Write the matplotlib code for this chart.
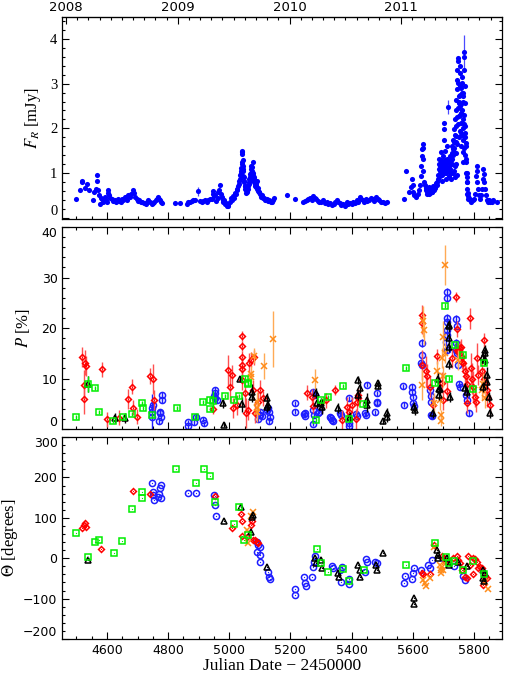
import matplotlib
matplotlib.use('Agg')
import matplotlib.pyplot as plt
from matplotlib.ticker import MultipleLocator
import numpy as np

# ---- optical flux (JD - 2450000, mJy), one pair of lists per season
jd_2008 = [4499, 4512, 4517, 4518, 4528, 4536, 4542, 4555, 4559, 4563, 4566, 4567, 4572, 4575, 4577, 4580,
           4583, 4588, 4594, 4597, 4599, 4602, 4604, 4608, 4611, 4615, 4620, 4626, 4631, 4637, 4641, 4645,
           4650, 4654, 4658, 4662, 4666, 4670, 4675, 4679, 4684, 4688, 4692, 4697, 4701, 4706, 4710, 4714,
           4720, 4728, 4732, 4735, 4740, 4746, 4750, 4754, 4759, 4763, 4766, 4768, 4771, 4773, 4776, 4779]
f_2008 = [0.42, 0.63, 0.83, 0.79, 0.66, 0.76, 0.61, 0.39, 0.57, 0.64, 0.83, 0.96, 0.61, 0.50, 0.31, 0.45,
          0.42, 0.36, 0.46, 0.40, 0.35, 0.55, 0.61, 0.50, 0.45, 0.42, 0.38, 0.39, 0.34, 0.42, 0.37, 0.35,
          0.42, 0.39, 0.46, 0.44, 0.40, 0.50, 0.46, 0.52, 0.61, 0.55, 0.47, 0.42, 0.38, 0.39, 0.35, 0.36,
          0.33, 0.31, 0.36, 0.39, 0.34, 0.31, 0.33, 0.35, 0.39, 0.41, 0.47, 0.44, 0.42, 0.39, 0.36, 0.33]

jd_2009 = [4823, 4839, 4861, 4866, 4872, 4878, 4883, 4888, 4899, 4905, 4910, 4915, 4921, 4927, 4932, 4938,
           4943, 4946, 4948, 4951, 4953, 4958, 4962, 4964, 4968, 4970, 4973, 4975, 4978, 4980, 4983, 4986,
           4989, 4992, 4995, 4997, 5002, 5005, 5008, 5012, 5016, 5019, 5022, 5024, 5026, 5028, 5031, 5033,
           5035, 5036, 5037, 5038, 5040, 5041, 5042, 5043, 5043, 5044, 5045, 5046, 5047, 5048, 5050, 5051,
           5054, 5057, 5059, 5062, 5064, 5066, 5068, 5070, 5072, 5073, 5076, 5079, 5080, 5081, 5083, 5084,
           5086, 5088, 5090, 5092, 5095, 5098, 5101, 5104, 5106, 5110, 5114, 5118, 5122, 5126, 5131, 5135,
           5139, 5143, 5146,
           5039, 5044, 5046, 5049, 5053, 5056, 5060, 5063, 5067, 5069, 5071, 5074, 5075, 5077, 5078, 5082,
           5085, 5087, 5089, 5093, 5096]
f_2009 = [0.33, 0.33, 0.31, 0.34, 0.36, 0.38, 0.39, 0.39, 0.59, 0.37, 0.35, 0.38, 0.39, 0.36, 0.39, 0.42,
          0.42, 0.52, 0.59, 0.48, 0.50, 0.38, 0.45, 0.57, 0.62, 0.72, 0.52, 0.46, 0.40, 0.34, 0.39, 0.30,
          0.33, 0.27, 0.25, 0.29, 0.34, 0.45, 0.39, 0.48, 0.44, 0.55, 0.53, 0.65, 0.61, 0.70, 0.76, 0.82,
          0.87, 0.95, 1.01, 1.05, 1.20, 1.25, 1.46, 1.50, 1.42, 1.16, 1.05, 0.94, 0.80, 0.83, 0.70, 0.64,
          0.55, 0.57, 0.62, 0.64, 0.75, 0.87, 0.92, 1.01, 1.08, 1.13, 0.95, 1.24, 0.80, 0.87, 0.70, 0.76,
          0.68, 0.78, 0.83, 0.64, 0.60, 0.57, 0.52, 0.47, 0.50, 0.45, 0.44, 0.40, 0.42, 0.38, 0.39, 0.35,
          0.36, 0.40, 0.44,
          1.12, 1.30, 1.10, 0.90, 0.70, 0.62, 0.70, 0.80, 0.98, 0.85, 1.15, 0.90, 1.05, 0.85, 1.00, 0.92,
          0.82, 0.72, 0.70, 0.66, 0.58]

jd_2010 = [5190, 5215, 5242, 5247, 5253, 5258, 5264, 5270, 5275, 5279, 5284, 5290, 5295, 5300, 5306, 5312,
           5319, 5324, 5330, 5335, 5341, 5346, 5351, 5356, 5362, 5367, 5373, 5378, 5384, 5389, 5395, 5400,
           5406, 5411, 5417, 5421, 5426, 5431, 5437, 5442, 5447, 5452, 5458, 5463, 5469, 5474, 5480, 5485,
           5491, 5496, 5504, 5510, 5517]
f_2010 = [0.51, 0.41, 0.36, 0.38, 0.39, 0.42, 0.44, 0.40, 0.48, 0.45, 0.42, 0.38, 0.36, 0.34, 0.39, 0.33,
          0.35, 0.30, 0.33, 0.28, 0.31, 0.35, 0.39, 0.36, 0.33, 0.29, 0.31, 0.27, 0.35, 0.31, 0.33, 0.30,
          0.36, 0.33, 0.39, 0.35, 0.46, 0.41, 0.39, 0.35, 0.42, 0.37, 0.39, 0.43, 0.41, 0.38, 0.46, 0.42,
          0.39, 0.36, 0.35, 0.33, 0.35]

jd_2011 = [5571, 5578, 5589, 5593, 5597, 5602, 5602, 5605, 5610, 5618, 5622, 5624, 5626, 5628, 5629, 5630,
           5633, 5635, 5633, 5635, 5637, 5640, 5643, 5648, 5652, 5657, 5662, 5665, 5670, 5674, 5678,
           5644, 5647, 5650, 5654, 5656, 5660, 5664, 5667, 5672, 5676, 5680, 5682,
           5684, 5686, 5687, 5689, 5691, 5692, 5695, 5696, 5698, 5700, 5701, 5702, 5703, 5705, 5707, 5709,
           5711, 5713, 5714, 5716, 5718, 5720, 5722, 5724, 5726,
           5686, 5688, 5690, 5692, 5694, 5696, 5697, 5699, 5701, 5703, 5704, 5706, 5708, 5710, 5712, 5715,
           5717, 5719, 5721, 5723, 5725, 5727,
           5729, 5731, 5733, 5734, 5735, 5737, 5738, 5740, 5742, 5743, 5744, 5745, 5746, 5747, 5748, 5749,
           5750, 5751, 5752, 5753, 5754, 5755, 5756, 5757, 5758, 5759, 5760, 5761, 5762, 5763, 5764, 5765,
           5766, 5767, 5768, 5769, 5770, 5771, 5772, 5773, 5774, 5775, 5776, 5777, 5778, 5779, 5781, 5783,
           5731, 5735, 5738, 5740, 5742, 5744, 5745, 5750, 5754, 5758, 5762, 5765, 5766, 5767, 5770, 5771,
           5728, 5730, 5732, 5734, 5736, 5739, 5741, 5743, 5745, 5747, 5749, 5751, 5753, 5755, 5757, 5759,
           5761, 5763, 5765, 5767, 5769, 5771, 5773, 5775, 5777, 5779, 5780, 5782,
           5787, 5792, 5796, 5801, 5804, 5807, 5809, 5810, 5811, 5814, 5817, 5820, 5824, 5827, 5829, 5831,
           5832, 5834, 5836, 5840, 5842, 5845, 5849, 5853, 5858, 5864, 5877]
f_2011 = [0.42, 1.05, 0.57, 0.68, 0.87, 0.73, 0.57, 0.50, 0.46, 0.53, 0.61, 0.72, 0.94, 1.16, 1.38, 1.53,
          1.64, 1.57, 1.31, 1.05, 0.79, 0.72, 0.61, 0.57, 0.53, 0.61, 0.57, 0.65, 0.61, 0.68, 0.72,
          0.66, 0.52, 0.60, 0.68, 0.55, 0.63, 0.58, 0.70, 0.66, 0.78, 0.80, 0.95,
          0.87, 1.09, 1.31, 0.94, 1.24, 1.46, 1.01, 0.83, 1.16, 1.38, 1.75, 1.98, 2.13, 1.50, 1.09, 0.87,
          1.31, 1.61, 2.48, 1.24, 0.94, 1.13, 1.38, 0.87, 1.01,
          1.20, 1.05, 1.15, 1.30, 1.10, 1.25, 0.95, 1.10, 1.20, 1.00, 1.30, 1.15, 1.00, 1.20, 1.05, 1.10,
          1.25, 1.05, 1.20, 1.10, 1.30, 1.20,
          1.31, 1.53, 1.75, 1.98, 1.46, 1.16, 2.20, 2.42, 1.83, 2.64, 2.87, 3.09, 3.31, 3.50, 3.57, 3.01,
          2.57, 2.27, 2.72, 2.94, 3.24, 3.39, 2.50, 2.13, 1.90, 2.35, 2.79, 3.01, 3.16, 2.72, 2.20, 1.75,
          1.46, 3.60, 3.31, 3.72, 2.94, 2.57, 2.05, 1.68, 1.31, 1.01, 0.79, 1.01, 0.65, 0.53, 0.42, 0.45,
          1.00, 1.05, 0.90, 1.20, 1.45, 0.95, 1.65, 1.80, 1.95, 1.60, 1.85, 2.00, 1.25, 1.55, 1.90, 1.40,
          1.45, 1.60, 1.40, 1.70, 1.55, 1.85, 2.05, 1.70, 2.25, 2.45, 2.10, 2.60, 2.30, 2.75, 2.55, 2.90,
          2.40, 2.60, 2.80, 2.30, 2.10, 1.80, 1.60, 1.25, 0.90, 0.80, 0.55, 0.48,
          0.39, 0.35, 0.39, 0.42, 0.53, 0.94, 1.16, 1.05, 0.79, 0.65, 0.50, 0.42, 0.50, 0.65, 0.87, 1.09,
          0.98, 0.79, 0.65, 0.50, 0.39, 0.35, 0.39, 0.36, 0.35, 0.39, 0.36]

flux_bar_jd = [4899, 5714, 5769]
flux_bar = [0.59, 2.48, 3.72]
flux_bar_err = [0.10, 0.16, 0.38]

# ---- polarization degree P [%]
red_jd = [4517, 4528, 4530, 4525, 4525, 4583, 4599, 4640, 4670, 4681, 4686, 4697, 4741, 4752, 4755,
          4948, 4997, 5002, 5010, 5013, 5024, 5041, 5041, 5041, 5041, 5043, 5043, 5051, 5054, 5062,
          5065, 5070, 5080, 5079, 5084, 5095, 5101, 5110,
          5255, 5270, 5275, 5316, 5346, 5368, 5384, 5393, 5401, 5415, 5418, 5420, 5422,
          5629, 5629, 5629, 5644, 5646, 5657, 5666, 5678, 5695, 5700, 5712, 5727, 5742, 5744, 5744,
          5749, 5752, 5755, 5757, 5760, 5760, 5763, 5771, 5774, 5777, 5777, 5787, 5790, 5793, 5798,
          5804, 5807, 5811, 5815, 5826, 5833, 5834, 5836, 5842, 5844, 5853]
red_p = [14.2, 13.1, 12.5, 8.7, 5.9, 11.8, 1.9, 2.2, 5.9, 8.4, 4.2, 2.4, 10.5, 9.9, 5.7,
         3.9, 11.6, 8.4, 10.6, 4.1, 4.8, 11.8, 12.7, 14.2, 16.4, 18.5, 9.8, 7.1, 3.1, 3.8,
         13.0, 13.7, 14.2, 7.7, 3.2, 5.4, 7.7, 6.1,
         7.2, 6.4, 4.6, 5.7, 7.7, 1.8, 4.3, 3.4, 4.8, 1.9, 5.4, 6.1, 6.7,
         22.6, 20.9, 12.7, 11.4, 10.4, 8.4, 4.8, 14.4, 9.2, 5.7, 7.5, 14.0, 26.2, 19.8, 15.7,
         15.3, 15.6, 16.0, 16.3, 14.3, 13.3, 13.0, 11.4, 10.4, 9.0, 5.1, 21.9, 12.0, 10.0, 8.4,
         6.4, 5.4, 14.0, 10.7, 11.4, 17.6, 10.0, 9.0, 7.8, 6.4, 4.8]
red_perr = [2.0, 2.5, 2.0, 3.0, 3.0, 1.5, 1.5, 1.5, 2.0, 1.5, 1.5, 1.5, 1.5, 3.0, 2.0,
            1.0, 3.0, 3.0, 2.0, 2.0, 2.0, 1.5, 1.5, 1.2, 1.0, 1.0, 2.0, 3.0, 3.0, 2.0,
            2.0, 1.5, 1.5, 2.0, 2.0, 2.0, 2.0, 1.5,
            1.5, 1.5, 1.5, 1.5, 1.0, 2.0, 2.0, 1.5, 1.5, 2.0, 2.0, 1.5, 1.5,
            2.0, 2.0, 3.0, 3.0, 2.5, 2.0, 1.5, 1.5, 2.0, 2.0, 2.0, 2.0, 1.0, 1.5, 1.5,
            1.5, 1.5, 1.5, 1.5, 1.5, 1.5, 2.0, 2.0, 2.0, 2.0, 2.0, 2.0, 3.0, 3.0, 3.0,
            2.0, 2.0, 3.0, 2.0, 2.5, 1.5, 2.0, 2.0, 2.0, 2.0, 2.0]

blue_jd = [4746, 4747, 4748, 4752, 4774, 4775, 4777, 4779, 4780, 4770, 4866, 4866, 4885, 4891, 4915,
           4917, 4953, 4953, 4954, 4959, 4951, 5101, 5106, 5095, 5128, 5130, 5133, 5130, 5122, 5099,
           5215, 5215, 5248, 5248, 5245, 5275, 5280, 5275, 5277, 5275, 5291, 5294, 5297, 5333, 5335,
           5338, 5330, 5362, 5364, 5390, 5390, 5393, 5415, 5418, 5444, 5450, 5447, 5482, 5484, 5482,
           5477,
           5569, 5571, 5597, 5599, 5600, 5602, 5604, 5629, 5629, 5631, 5628, 5657, 5659, 5661, 5660,
           5662, 5713, 5713, 5711, 5713, 5711, 5711, 5709, 5713, 5742, 5744, 5741, 5741, 5744, 5749,
           5752, 5755, 5774, 5779, 5785]
blue_p = [4.1, 3.4, 2.4, 4.8, 3.4, 3.1, 2.4, 6.7, 5.7, 1.5, 1.3, 0.5, 1.3, 2.4, 1.8,
          1.1, 7.7, 7.1, 6.1, 5.7, 6.6, 2.8, 2.6, 2.0, 4.1, 3.4, 2.4, 1.5, 3.8, 3.4,
          5.1, 3.4, 3.2, 2.6, 2.9, 7.4, 6.7, 3.8, 2.7, 1.0, 3.1, 3.4, 4.1, 2.1, 1.8,
          1.5, 2.4, 3.1, 2.8, 1.1, 0.5, 6.1, 3.0, 2.6, 3.1, 8.8, 2.8, 5.4, 5.1, 7.1,
          3.3,
          8.5, 4.8, 8.4, 7.4, 6.4, 5.2, 4.6, 17.1, 14.7, 12.7, 13.0, 7.7, 6.5, 5.4, 2.8,
          2.5, 27.2, 25.9, 21.9, 21.2, 19.6, 18.6, 17.3, 15.6, 21.8, 20.4, 17.0, 15.6, 15.0, 12.7,
          9.0, 8.4, 6.7, 5.7, 3.1]
blue_perr = [0.6, 3.5, 0.6, 0.6, 0.6, 0.6, 0.6, 0.6, 0.6, 0.6, 0.5, 0.5, 0.5, 0.5, 0.5,
             0.5, 0.6, 0.6, 0.6, 0.6, 0.6, 0.6, 0.6, 0.6, 0.6, 0.6, 0.6, 0.6, 0.6, 0.6,
             0.5, 0.5, 0.5, 0.5, 0.5, 0.5, 0.5, 0.5, 0.5, 0.5, 0.5, 0.5, 0.5, 0.5, 0.5,
             0.5, 0.5, 0.5, 0.5, 0.5, 0.5, 0.5, 0.5, 0.5, 0.5, 0.5, 0.5, 0.5, 0.5, 0.5,
             0.5,
             0.5, 0.5, 0.5, 0.5, 0.5, 0.5, 0.5, 0.8, 0.8, 0.8, 0.8, 0.6, 0.6, 0.6, 0.6,
             0.6, 0.8, 0.8, 0.8, 0.8, 0.8, 0.8, 0.8, 0.8, 0.8, 0.8, 0.8, 0.8, 0.8, 0.8,
             0.6, 0.6, 0.6, 0.6, 0.6]

green_jd = [4499, 4539, 4561, 4575, 4621, 4653, 4681, 4714, 4717, 4746, 4828, 4888, 4915, 4937, 4937,
            4948, 4986, 5015, 5033, 5051, 5062, 5060, 5284, 5299, 5324, 5373, 5390, 5437,
            5578, 5706, 5738, 5763, 5720, 5673, 5796, 5834]
green_p = [2.4, 8.9, 8.1, 3.3, 1.6, 2.4, 3.0, 5.2, 4.2, 2.8, 4.1, 2.4, 5.3, 3.9, 5.7,
           5.6, 6.5, 5.7, 6.6, 10.0, 9.2, 9.0, 1.8, 5.7, 6.4, 8.6, 1.9, 4.9,
           12.0, 24.4, 16.6, 14.7, 10.0, 9.2, 8.0, 13.0]
green_perr = [0.4, 1.5, 0.4, 0.4, 0.4, 0.4, 0.4, 0.4, 0.4, 0.4, 0.4, 0.4, 0.4, 0.4, 0.4,
              2.0, 0.4, 0.4, 0.4, 0.4, 0.4, 0.4, 0.4, 0.4, 0.4, 0.4, 0.4, 0.4,
              0.4, 0.5, 0.5, 0.5, 0.5, 0.5, 0.5, 0.5]

black_jd = [4539, 4626, 4659, 4983, 4981, 5035, 5041, 5073, 5073, 5122, 5122, 5128, 5285, 5286, 5299,
            5302, 5357, 5395, 5422, 5426, 5422, 5450, 5450, 5487, 5487, 5504, 5515, 5515,
            5605, 5607, 5684, 5686, 5687, 5689, 5665, 5717, 5719, 5717, 5720, 5722, 5718, 5779, 5771,
            5836, 5835, 5831, 5836, 5842, 5842, 5853, 5851, 5831]
black_p = [8.9, 2.1, 2.1, 0.8, 5.2, 10.0, 4.9, 7.4, 6.4, 6.2, 4.4, 4.8, 7.1, 5.2, 5.1,
           4.4, 4.1, 2.4, 9.7, 8.1, 6.7, 5.7, 4.8, 9.2, 8.6, 1.5, 3.1, 2.4,
           4.4, 3.7, 10.0, 8.0, 6.7, 7.9, 3.1, 20.6, 18.0, 16.3, 12.9, 6.4, 20.3, 7.4, 8.1,
           15.6, 15.0, 14.3, 13.7, 10.7, 9.4, 3.2, 6.4, 8.4]
black_perr = [1.5, 1.0, 1.0, 0.5, 1.0, 0.5, 1.5, 1.5, 1.0, 1.0, 1.0, 1.0, 1.0, 1.0, 1.0,
              1.5, 1.0, 1.0, 0.8, 1.0, 1.0, 1.5, 1.5, 0.6, 0.6, 0.5, 1.0, 1.0,
              1.0, 1.0, 1.0, 1.0, 1.0, 1.0, 1.0, 1.0, 1.0, 1.0, 1.0, 1.0, 1.0, 1.0, 1.0,
              1.0, 1.0, 1.0, 1.0, 1.5, 1.5, 1.0, 1.0, 1.0]

orange_jd = [5080, 5070, 5070, 5112, 5142, 5090, 5091, 5092, 5280, 5302,
             5635, 5637, 5630, 5706, 5700, 5706, 5695, 5678, 5689, 5691, 5691, 5700, 5668, 5749,
             5826, 5836, 5831]
orange_p = [14.5, 10.9, 10.2, 12.5, 17.8, 5.4, 4.2, 3.4, 9.8, 4.6,
            21.3, 19.6, 8.7, 32.5, 18.3, 15.0, 14.0, 11.5, 5.8, 2.8, 1.5, 10.4, 5.1, 13.7,
            7.7, 6.1, 9.0]
orange_perr = [1.5, 1.5, 1.5, 2.5, 5.5, 2.0, 2.0, 2.0, 2.0, 1.5,
               3.0, 3.0, 3.0, 4.0, 3.0, 2.0, 2.0, 2.0, 2.0, 1.0, 1.0, 2.0, 2.0, 2.0,
               2.0, 2.0, 2.0]

# ---- polarization angle [degrees]
red_jd_t = [4517, 4526, 4528, 4530, 4580, 4684, 4741, 4952, 5010, 5038, 5041, 5043, 5059, 5070, 5073,
            5079, 5084, 5090, 5095,
            5630, 5633, 5657, 5668, 5695, 5700, 5711, 5733, 5744, 5749, 5755, 5760, 5771, 5777, 5782,
            5798, 5804, 5809, 5798, 5820, 5826, 5836, 5842, 5831, 5815, 5788]
red_t = [74, 82, 86, 78, 23, 166, 158, 154, 74, 110, 91, 55, 53, 81, 93,
         45, 45, 41, 37,
         -36, -39, -39, 33, 6, 0, -9, 0, 6, -4, -13, -28, -46, -50, 6,
         0, -3, -9, -40, -21, -25, -46, -50, -66, -23, -17]

blue_jd_t = [4746, 4749, 4754, 4752, 4768, 4771, 4774, 4776, 4777, 4866, 4891, 4950, 4953, 4957,
             5090, 5095, 5101, 5090, 5102, 5101, 5128, 5130, 5133, 5215, 5215, 5245, 5248, 5251,
             5272, 5275, 5277, 5280, 5335, 5338, 5362, 5368, 5365, 5390, 5393, 5447, 5450, 5444,
             5477, 5482, 5572, 5575, 5597, 5602, 5605, 5626, 5651, 5657, 5662, 5702, 5735, 5766, 5770]
blue_t = [185, 165, 144, 156, 152, 160, 173, 181, 148, 162, 162, 156, 132, 104,
          41, 33, 29, 16, 8, -9, -33, -46, -52, -77, -91, -46, -61, -70,
          -46, -21, -9, 6, -19, -23, -29, -21, -58, -52, -64, -2, -9, -33,
          -9, -13, -61, -43, -52, -36, -23, -28, -17, -25, -4, -3, -19, -44, -54]

green_jd_t = [4499, 4539, 4561, 4575, 4624, 4650, 4681, 4714, 4716, 4826, 4890, 4917, 4937, 4953,
              5017, 5033, 5049, 5060, 5286, 5300, 5324, 5373, 5390, 5439,
              5578, 5673, 5708, 5717, 5736, 5764, 5796, 5834]
green_t = [62, 4, 39, 45, 14, 43, 123, 148, 163, 220, 187, 220, 203, 140,
           85, 128, 45, 57, 22, -13, -35, -27, -56, -28,
           -18, 38, 3, -13, -7, -28, -6, -40]

black_jd_t = [4539, 4983, 5037, 5070, 5073, 5076, 5122, 5280, 5283, 5300, 5302, 5357, 5360, 5422,
              5426, 5428, 5480, 5482, 5502, 5604, 5605, 5679, 5681, 5684, 5711, 5719, 5749, 5777,
              5831, 5833, 5829, 5836]
black_t = [-4, 91, 128, 66, 101, 106, -21, 0, -13, -4, -25, -36, -46, -17,
           -46, -29, -17, -29, 12, -98, -113, 20, 8, 0, 0, -17, -9, -19,
           -29, -57, -50, -37]

orange_jd_t = [5057, 5070, 5079, 5062, 5635, 5641, 5644, 5657, 5690, 5692, 5694, 5700, 5695, 5706,
               5836, 5845, 5668]
orange_t = [70, 104, 115, 37, -54, -62, -70, -50, -17, -29, -37, -29, -21, -9,
            -58, -77, 29]

year_ticks = ['2008', '2009', '2010', '2011']

# ---- styling
plt.rcParams['font.family'] = 'DejaVu Sans'
plt.rcParams['mathtext.fontset'] = 'stix'
c_red = '#ff0000'
c_red_bar = '#ff5050'
c_blue = '#1e1eff'
c_green = '#00ee00'
c_orange = '#ff8c1a'
c_orange_bar = '#ffaa55'

fig = plt.figure(figsize=(5.05, 6.74), dpi=100)
left, width = 0.1234, 0.8707
ax1 = fig.add_axes([left, 0.6751, width, 0.3001])
ax2 = fig.add_axes([left, 0.3635, width, 0.2997])
ax3 = fig.add_axes([left, 0.0519, width, 0.2997])

# top panel: flux
ax1.errorbar(flux_bar_jd, flux_bar, yerr=flux_bar_err, fmt='none', ecolor='#4a4aff', elinewidth=0.9)
for x, y in ((jd_2008, f_2008), (jd_2009, f_2009), (jd_2010, f_2010), (jd_2011, f_2011)):
    ax1.plot(x, y, 'o', color='blue', ms=3.7, mew=0)


def series(ax, x, y, err, marker, col, bar_col, ms):
    if err is not None:
        ax.errorbar(x, y, yerr=err, fmt='none', ecolor=bar_col, elinewidth=1.0, capsize=0)
    ax.plot(x, y, marker, ls='none', color=col, ms=ms, mfc='none', mew=1.1)
    ax.plot(x, y, '.', ls='none', color=col, ms=1.8, mew=0)


series(ax2, blue_jd, blue_p, blue_perr, 'o', c_blue, c_blue, 4.4)
series(ax2, red_jd, red_p, red_perr, 'D', c_red, c_red_bar, 3.0)
series(ax2, orange_jd, orange_p, orange_perr, 'x', c_orange, c_orange_bar, 4.0)
series(ax2, black_jd, black_p, black_perr, '^', 'black', 'black', 4.6)
series(ax2, green_jd, green_p, green_perr, 's', c_green, c_green, 4.2)

series(ax3, blue_jd_t, blue_t, None, 'o', c_blue, c_blue, 4.4)
series(ax3, red_jd_t, red_t, None, 'D', c_red, c_red_bar, 3.0)
series(ax3, orange_jd_t, orange_t, None, 'x', c_orange, c_orange_bar, 4.0)
series(ax3, black_jd_t, black_t, None, '^', 'black', 'black', 4.6)
series(ax3, green_jd_t, green_t, None, 's', c_green, c_green, 4.2)

ax1.set_ylim(-0.03, 4.5)
ax2.set_ylim(0, 40)
ax3.set_ylim(-200, 300)

for ax in (ax1, ax2, ax3):
    ax.set_xlim(4454, 5892)
    ax.xaxis.set_major_locator(MultipleLocator(200))
    ax.xaxis.set_minor_locator(MultipleLocator(50))
    ax.tick_params(which='both', direction='in', right=True, top=True, labelsize=9)
    ax.tick_params(which='major', length=5, width=0.8)
    ax.tick_params(which='minor', length=2.5, width=0.8)
    for s in ax.spines.values():
        s.set_linewidth(0.9)

ax1.tick_params(top=False, which='both', labelbottom=False)
ax2.tick_params(labelbottom=False)

ax1.yaxis.set_major_locator(MultipleLocator(1))
ax1.yaxis.set_minor_locator(MultipleLocator(0.2))
ax2.yaxis.set_major_locator(MultipleLocator(10))
ax2.yaxis.set_minor_locator(MultipleLocator(2))
ax3.yaxis.set_major_locator(MultipleLocator(100))
ax3.yaxis.set_minor_locator(MultipleLocator(20))

fig.canvas.draw()
for lab in ax1.get_yticklabels():
    lab.set_family('Liberation Serif')
    lab.set_fontsize(10.5)
# the lowest / highest tick labels are pushed inside the frame, like the original
for ax in (ax1, ax2, ax3):
    lo, hi = ax.get_ylim()
    span = hi - lo
    for lab in ax.get_yticklabels():
        y = lab.get_position()[1]
        if not lab.get_text() or y < lo or y > hi:
            continue
        if y - lo < 0.02 * span:
            lab.set_va('bottom')
        elif hi - y < 0.02 * span:
            lab.set_va('top')


# calendar years along the top
def jd2year(x):
    return 2008.0 + (np.asarray(x) - 4466.5) / 365.25


def year2jd(y):
    return 4466.5 + (np.asarray(y) - 2008.0) * 365.25


sec = ax1.secondary_xaxis('top', functions=(jd2year, year2jd))
sec.set_xticks([float(y) for y in year_ticks], labels=year_ticks)
sec.xaxis.set_minor_locator(MultipleLocator(0.1))
sec.tick_params(which='both', direction='in', labelsize=9.5, pad=2)
sec.tick_params(which='major', length=5, width=0.8)
sec.tick_params(which='minor', length=2.5, width=0.8)

lab_font = dict(family='Liberation Serif', size=12)
ax1.set_ylabel(r'$F_R$ [mJy]', **lab_font)
ax2.set_ylabel(r'$P$ [%]', **lab_font)
ax3.set_ylabel(r'$\Theta$ [degrees]', **lab_font)
ax1.yaxis.set_label_coords(-0.044, 0.5)
ax2.yaxis.set_label_coords(-0.069, 0.5)
ax3.yaxis.set_label_coords(-0.096, 0.5)
ax3.set_xlabel('Julian Date \u2212 2450000', family='Liberation Serif', size=12.5, labelpad=1)

fig.savefig('out.png', dpi=100)
